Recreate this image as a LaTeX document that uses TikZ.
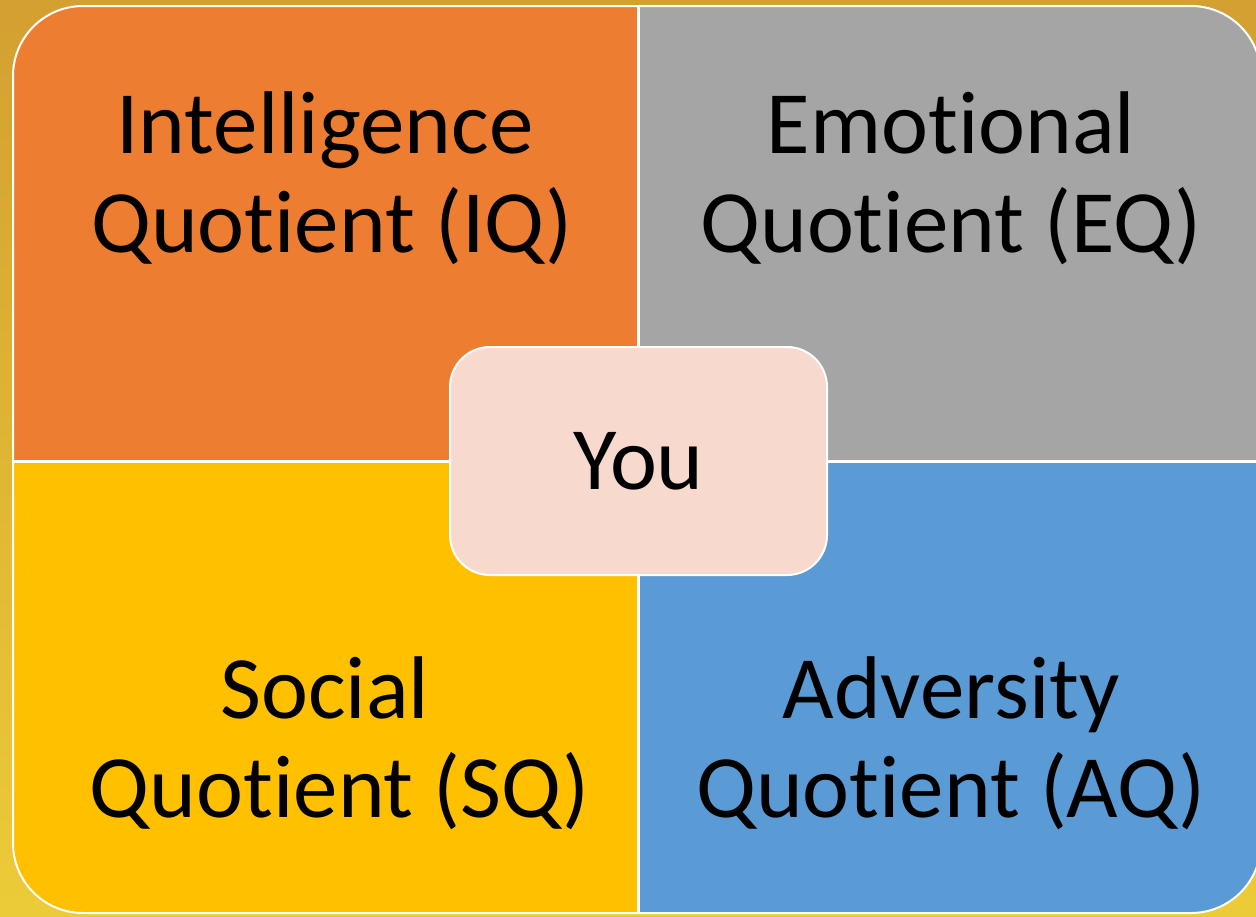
\documentclass[tikz,border=0pt]{standalone}
\usepackage{fontspec}
\setmainfont{Carlito}[Ligatures=NoCommon]
\definecolor{bgtop}{HTML}{D3A031}
\definecolor{bgmid}{HTML}{E6D24D}
\definecolor{bgbot}{HTML}{ECCB38}
\definecolor{iqc}{HTML}{ED7D31}
\definecolor{eqc}{HTML}{A5A5A5}
\definecolor{sqc}{HTML}{FFC000}
\definecolor{aqc}{HTML}{5B9BD5}
\definecolor{youc}{HTML}{F8D9CE}
\begin{document}
\begin{tikzpicture}[x=0.5pt,y=-0.5pt,
  qlabel/.style={font=\fontsize{44.5}{49.5}\selectfont, align=center, inner sep=0pt, text=black},
  youbox/.style={draw=white, line width=1pt, fill=youc, rounded corners=20pt,
    minimum width=188.5pt, minimum height=114pt, inner sep=0pt,
    font=\fontsize{44.5}{49.5}\selectfont, text=black}]
\useasboundingbox (0,0) rectangle (1256,916);
\shade[top color=bgtop, middle color=bgmid, bottom color=bgbot] (0,0) rectangle (1256,916);
\begin{scope}
  \clip[rounded corners=35pt] (13,6) rectangle (1261,913);
  \fill[iqc] (13,6) rectangle (638.5,461);
  \fill[eqc] (638.5,6) rectangle (1261,461);
  \fill[sqc] (13,461) rectangle (638.5,913);
  \fill[aqc] (638.5,461) rectangle (1261,913);
\end{scope}
\draw[white, line width=1.5pt] (638.5,6) -- (638.5,913);
\draw[white, line width=1.5pt] (13,461) -- (1261,461);
\draw[white, line width=1pt, rounded corners=35pt] (13,6) rectangle (1261,913);
\node[qlabel, anchor=base] (iq) at (332,252) {Intelligence\kern7pt\\Quotient (IQ)};
\node[qlabel, anchor=base] (eq) at (951,252) {Emotional\\Quotient (EQ)};
\node[qlabel, anchor=base] (sq) at (340,817) {Social\kern15pt\\Quotient (SQ)};
\node[qlabel, anchor=base] (aq) at (951,817) {Adversity\\Quotient (AQ)};
\node[youbox] (you) at (638.5,461) {You};
\end{tikzpicture}
\end{document}
